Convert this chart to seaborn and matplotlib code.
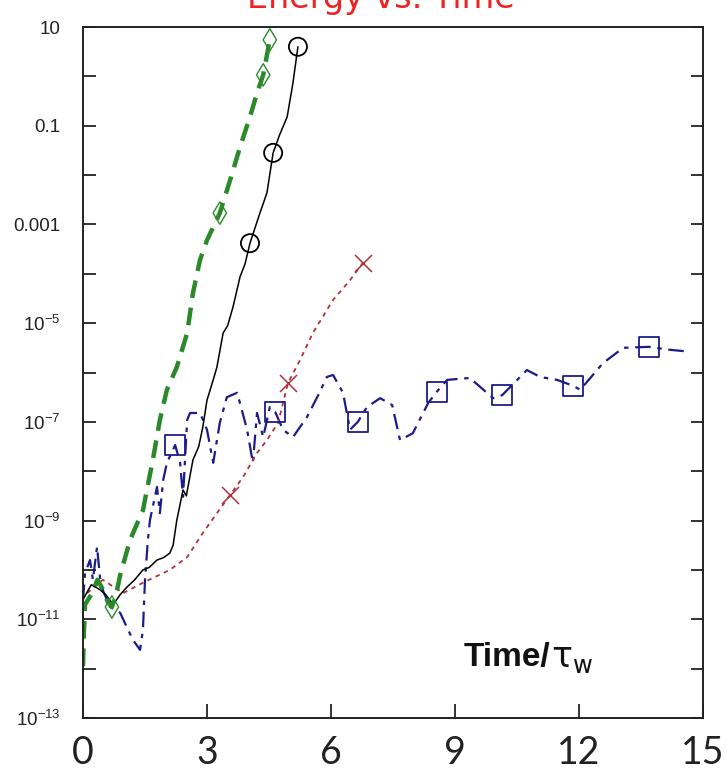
import numpy as np
import pandas as pd
import matplotlib
matplotlib.use("Agg")
import matplotlib.pyplot as plt
import matplotlib.transforms as mtransforms
import seaborn as sns

# ---- data (log10 of energy) ----
green_t = [0.0, 0.02, 0.05, 0.2, 0.35, 0.45, 0.6, 0.7, 0.8, 0.9, 1.14, 1.45, 1.69, 1.86, 2.03,
           2.27, 2.52, 2.66, 2.83, 3.0, 3.31, 3.56, 3.80, 4.04, 4.21, 4.36, 4.52]
green_log = [-11.95, -11.3, -10.7, -10.5, -10.2, -10.35, -10.65, -10.75, -10.5, -10.1, -9.39, -8.79,
             -7.77, -6.96, -6.35, -5.89, -5.2, -4.39, -3.72, -3.32, -2.77, -2.1, -1.43, -0.82,
             -0.34, 0.03, 0.74]
green_mk_t = [0.7, 3.31, 4.36, 4.52]
green_mk_log = [-10.75, -2.77, 0.03, 0.74]

black_t = [0.0, 0.2, 0.41, 0.55, 0.73, 0.9, 1.06, 1.25, 1.45, 1.6, 1.79, 1.95, 2.1, 2.18, 2.27,
           2.42, 2.5, 2.66, 2.8, 2.9, 3.0, 3.15, 3.24, 3.39, 3.5, 3.63, 3.8, 3.92, 4.04, 4.15,
           4.28, 4.45, 4.6, 4.75, 4.94, 5.08, 5.2]
black_log = [-10.6, -10.3, -10.4, -10.5, -10.7, -10.5, -10.35, -10.2, -10.0, -9.95, -9.8, -9.75,
             -9.66, -9.5, -8.99, -8.38, -8.5, -7.77, -7.5, -7.1, -6.56, -6.15, -5.89, -5.2,
             -5.05, -4.67, -4.06, -3.8, -3.38, -3.1, -2.77, -2.36, -1.55, -1.2, -0.82, -0.13, 0.6]
black_mk_t = [4.04, 4.6, 5.2]
black_mk_log = [-3.38, -1.55, 0.6]

red_t = [0.1, 0.48, 0.97, 1.45, 2.1, 2.52, 2.9, 3.24, 3.56, 3.87, 4.21, 4.45, 4.72, 4.96,
         5.25, 5.56, 6.05, 6.46, 6.77]
red_log = [-10.47, -10.2, -10.47, -10.26, -10.0, -9.74, -9.25, -8.85, -8.48, -8.12, -7.63,
           -7.37, -7.02, -6.21, -5.75, -5.2, -4.53, -4.13, -3.78]
red_mk_t = [3.56, 4.96, 6.77]
red_mk_log = [-8.48, -6.21, -3.78]

blue_t = [0.0, 0.05, 0.17, 0.24, 0.34, 0.41, 0.48, 0.65, 0.9, 1.06, 1.21, 1.38, 1.45, 1.5,
          1.57, 1.62, 1.79, 1.86, 1.94, 2.03, 2.23, 2.35, 2.42, 2.52, 2.59, 2.83, 3.0, 3.15,
          3.31, 3.48, 3.73, 3.97, 4.11, 4.21, 4.36, 4.52, 4.65, 4.84, 5.08, 5.42, 5.69, 5.9,
          6.05, 6.29, 6.46, 6.65, 6.87, 7.19, 7.48, 7.67, 7.98, 8.35, 8.56, 8.81, 9.36, 9.92,
          10.14, 10.74, 11.06, 11.47, 11.86, 12.03, 12.58, 13.07, 13.69, 14.2, 14.69]
blue_log = [-10.61, -10.06, -9.8, -10.2, -9.53, -10.14, -10.41, -10.75, -10.87, -11.16, -11.42,
            -11.62, -11.22, -10.2, -9.39, -8.99, -8.32, -8.85, -8.18, -7.83, -7.47, -7.83,
            -8.52, -6.96, -6.82, -6.82, -7.16, -7.83, -7.02, -6.5, -6.41, -7.16, -7.83, -6.82,
            -7.31, -6.7, -6.8, -7.16, -7.31, -6.9, -6.46, -6.09, -6.05, -6.41, -7.16, -7.0,
            -6.7, -6.52, -6.66, -7.37, -7.23, -6.62, -6.39, -6.15, -6.11, -6.52, -6.46, -5.95,
            -6.09, -6.15, -6.27, -6.35, -5.81, -5.5, -5.48, -5.54, -5.58]
blue_mk_t = [2.23, 4.65, 6.65, 8.56, 10.14, 11.86, 13.69]
blue_mk_log = [-7.47, -6.8, -7.0, -6.39, -6.46, -6.27, -5.48]

x_ticks = [0, 3, 6, 9, 12, 15]
y_exps = list(range(-13, 2))

# ---- figure ----
sns.set_style("white")
plt.rcParams['font.family'] = ['DejaVu Sans']
plt.rcParams['mathtext.fontset'] = 'dejavusans'

fig = plt.figure(figsize=(7.27, 7.78), dpi=100)
ax = fig.add_axes([83/727, 1-718/778, 620/727, 691/778])

def draw(t, lg, color, lw, dashes):
    df = pd.DataFrame({"t": t, "E": np.power(10.0, lg)})
    sns.lineplot(data=df, x="t", y="E", ax=ax, color=color, linewidth=lw,
                 sort=False, estimator=None)
    ln = ax.lines[-1]
    if dashes is not None:
        ln.set_dashes(dashes)

def marks(t, lg, color, marker, s, lw, hollow=True):
    df = pd.DataFrame({"t": t, "E": np.power(10.0, lg)})
    sns.scatterplot(data=df, x="t", y="E", ax=ax, marker=marker, s=s, color=color,
                    linewidth=lw, zorder=5)
    coll = ax.collections[-1]
    if hollow:
        coll.set_facecolor('none')
        coll.set_edgecolor(color)

blue_c = "#1c1c8a"
green_c = "#2a8a2a"
red_c = "#b5303a"

draw(blue_t, blue_log, blue_c, 1.6, (7, 3, 2, 3))
draw(red_t, red_log, red_c, 1.3, (2.5, 2.5))
draw(black_t, black_log, "black", 1.1, None)
draw(green_t, green_log, green_c, 3.2, (4, 2.2))

marks(blue_mk_t, blue_mk_log, blue_c, 's', 200, 1.3)
marks(red_mk_t, red_mk_log, red_c, 'x', 150, 1.1, hollow=False)
marks(black_mk_t, black_mk_log, "black", 'o', 170, 1.3)
marks(green_mk_t, green_mk_log, green_c, 'd', 130, 1.0)

ax.set_yscale('log')
ax.set_xlim(0, 15)
ax.set_ylim(1e-13, 1e1)
ax.set_xlabel("")
ax.set_ylabel("")

ax.set_yticks([10.0**k for k in y_exps])
def ylab(k):
    if (k % 2) == 0:
        return ""
    if k == 1:
        return "10"
    if k == -1:
        return "0.1"
    if k == -3:
        return "0.001"
    return r"$\mathregular{10^{%d}}$" % k
ax.set_yticklabels([ylab(k) for k in y_exps])
ax.yaxis.set_minor_locator(matplotlib.ticker.NullLocator())
ax.set_xticks(x_ticks)
ax.set_xticklabels([str(v) for v in x_ticks])

for lab in ax.get_yticklabels():
    lab.set_fontfamily('Liberation Sans')
    lab.set_fontsize(13.5)
    lab.set_color('#222222')
xlabs = ax.get_xticklabels()
for lab in xlabs:
    lab.set_fontfamily('Lato')
    lab.set_fontsize(27)
    lab.set_fontweight('normal')
    lab.set_color('#333333')
# nudge the last label so it stays inside the canvas as in the reference
xlabs[-1].set_transform(xlabs[-1].get_transform() +
                        mtransforms.ScaledTranslation(-6/100, 0, fig.dpi_scale_trans))

ax.tick_params(axis='y', which='major', direction='in', length=9, width=1.3,
               left=True, right=True, pad=16, colors='#222222')
ax.tick_params(axis='x', which='major', direction='in', length=10, width=1.3,
               bottom=True, top=False, pad=12, colors='#222222')

for sp in ax.spines.values():
    sp.set_visible(True)
    sp.set_color('#222222')
    sp.set_linewidth(1.4)

ax.text(11.3, 10**-11.78, "Time/", fontsize=24, fontweight='bold',
        family='Liberation Sans', ha='right', va='center', color='#111111')
ax.text(11.33, 10**-11.78, r"τ$_{\mathregular{w}}$", fontsize=25,
        family='DejaVu Sans', ha='left', va='center', color='#111111')

fig.text(381/727, 1 - 8/778, "Energy vs. Time", color='#ee2222', fontsize=24,
         ha='center', va='baseline', family='DejaVu Sans')

fig.savefig("out.png", dpi=100, facecolor='white')
